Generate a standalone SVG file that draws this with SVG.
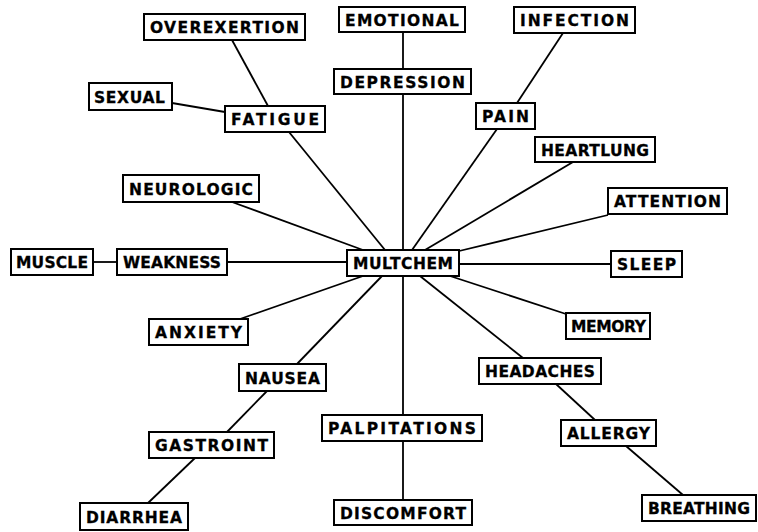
<svg xmlns="http://www.w3.org/2000/svg" width="758" height="532" viewBox="0 0 758 532">
<style>
.bx{fill:#fff;stroke:#000;stroke-width:2}
.t{font-family:"DejaVu Sans","Liberation Sans",Arial,sans-serif;font-weight:bold;font-size:15.5px;fill:#000;stroke:#000;stroke-width:0.3;text-anchor:middle}
.c line{stroke:#000;stroke-width:1.8;fill:none}
</style>
<rect width="758" height="532" fill="#fff"/>
<g id="connectors" class="c">
<line x1="232" y1="40" x2="268" y2="106"/>
<line x1="172" y1="103" x2="225" y2="112"/>
<line x1="289" y1="132" x2="385" y2="250"/>
<line x1="403" y1="32" x2="403" y2="69"/>
<line x1="403" y1="94" x2="403" y2="250"/>
<line x1="563" y1="33" x2="517" y2="103"/>
<line x1="497" y1="129" x2="412" y2="250"/>
<line x1="573" y1="162" x2="425" y2="250"/>
<line x1="608" y1="215" x2="455" y2="252"/>
<line x1="459" y1="264" x2="611" y2="264"/>
<line x1="450" y1="276" x2="566" y2="314"/>
<line x1="420" y1="276" x2="523" y2="358"/>
<line x1="556" y1="384" x2="595" y2="420"/>
<line x1="626" y1="446" x2="683" y2="495"/>
<line x1="403" y1="276" x2="403" y2="415"/>
<line x1="403" y1="441" x2="403" y2="500"/>
<line x1="232" y1="202" x2="363" y2="250"/>
<line x1="93" y1="262" x2="117" y2="262"/>
<line x1="227" y1="262" x2="347" y2="262"/>
<line x1="240" y1="319" x2="363" y2="276"/>
<line x1="297" y1="364" x2="382" y2="276"/>
<line x1="267" y1="391" x2="227" y2="432"/>
<line x1="195" y1="458" x2="148" y2="503"/>
</g>
<g id="overexertion"><rect class="bx" x="144" y="14" width="161" height="26"/><text class="t" x="224.5" y="33" textLength="149" lengthAdjust="spacing">OVEREXERTION</text></g>
<g id="emotional"><rect class="bx" x="339" y="7" width="126" height="25"/><text class="t" x="402" y="25.5" textLength="114" lengthAdjust="spacing">EMOTIONAL</text></g>
<g id="infection"><rect class="bx" x="514" y="7" width="121" height="26"/><text class="t" x="574.5" y="26" textLength="109" lengthAdjust="spacing">INFECTION</text></g>
<g id="sexual"><rect class="bx" x="89" y="83" width="83" height="27"/><text class="t" x="129.5" y="102.5" textLength="71" lengthAdjust="spacing">SEXUAL</text></g>
<g id="depression"><rect class="bx" x="334" y="69" width="137" height="25"/><text class="t" x="402.5" y="87.5" textLength="125" lengthAdjust="spacing">DEPRESSION</text></g>
<g id="fatigue"><rect class="bx" x="225" y="106" width="100" height="26"/><text class="t" x="275" y="125" textLength="88" lengthAdjust="spacing">FATIGUE</text></g>
<g id="pain"><rect class="bx" x="476" y="103" width="59" height="26"/><text class="t" x="505.5" y="122" textLength="47" lengthAdjust="spacing">PAIN</text></g>
<g id="heartlung"><rect class="bx" x="535" y="137" width="120" height="25"/><text class="t" x="595" y="155.5" textLength="108" lengthAdjust="spacing">HEARTLUNG</text></g>
<g id="neurologic"><rect class="bx" x="123" y="175" width="136" height="27"/><text class="t" x="191" y="194.5" textLength="124" lengthAdjust="spacing">NEUROLOGIC</text></g>
<g id="attention"><rect class="bx" x="608" y="188" width="119" height="26"/><text class="t" x="667.5" y="207" textLength="107" lengthAdjust="spacing">ATTENTION</text></g>
<g id="muscle"><rect class="bx" x="11" y="249" width="82" height="26"/><text class="t" x="52" y="268" textLength="72" lengthAdjust="spacing">MUSCLE</text></g>
<g id="weakness"><rect class="bx" x="117" y="249" width="110" height="26"/><text class="t" x="172" y="268" textLength="98" lengthAdjust="spacing">WEAKNESS</text></g>
<g id="multchem"><rect class="bx" x="347" y="250" width="112" height="26"/><text class="t" x="403" y="269" textLength="100" lengthAdjust="spacing">MULTCHEM</text></g>
<g id="sleep"><rect class="bx" x="611" y="251" width="71" height="26"/><text class="t" x="646.5" y="270" textLength="59" lengthAdjust="spacing">SLEEP</text></g>
<g id="anxiety"><rect class="bx" x="149" y="319" width="99" height="26"/><text class="t" x="198.5" y="338" textLength="87" lengthAdjust="spacing">ANXIETY</text></g>
<g id="memory"><rect class="bx" x="566" y="313" width="84" height="26"/><text class="t" x="608.5" y="332" textLength="75" lengthAdjust="spacing">MEMORY</text></g>
<g id="nausea"><rect class="bx" x="239" y="364" width="87" height="27"/><text class="t" x="282.5" y="383.5" textLength="75" lengthAdjust="spacing">NAUSEA</text></g>
<g id="headaches"><rect class="bx" x="479" y="358" width="122" height="26"/><text class="t" x="540" y="377" textLength="110" lengthAdjust="spacing">HEADACHES</text></g>
<g id="palpitations"><rect class="bx" x="322" y="415" width="160" height="26"/><text class="t" x="402" y="434" textLength="148" lengthAdjust="spacing">PALPITATIONS</text></g>
<g id="gastroint"><rect class="bx" x="149" y="432" width="125" height="26"/><text class="t" x="211.5" y="451" textLength="113" lengthAdjust="spacing">GASTROINT</text></g>
<g id="allergy"><rect class="bx" x="561" y="420" width="95" height="26"/><text class="t" x="608.5" y="439" textLength="83" lengthAdjust="spacing">ALLERGY</text></g>
<g id="diarrhea"><rect class="bx" x="80" y="503" width="108" height="27"/><text class="t" x="134" y="522.5" textLength="96" lengthAdjust="spacing">DIARRHEA</text></g>
<g id="discomfort"><rect class="bx" x="334" y="500" width="138" height="25"/><text class="t" x="403" y="518.5" textLength="126" lengthAdjust="spacing">DISCOMFORT</text></g>
<g id="breathing"><rect class="bx" x="642" y="495" width="114" height="26"/><text class="t" x="699" y="514" textLength="102" lengthAdjust="spacing">BREATHING</text></g>
</svg>
